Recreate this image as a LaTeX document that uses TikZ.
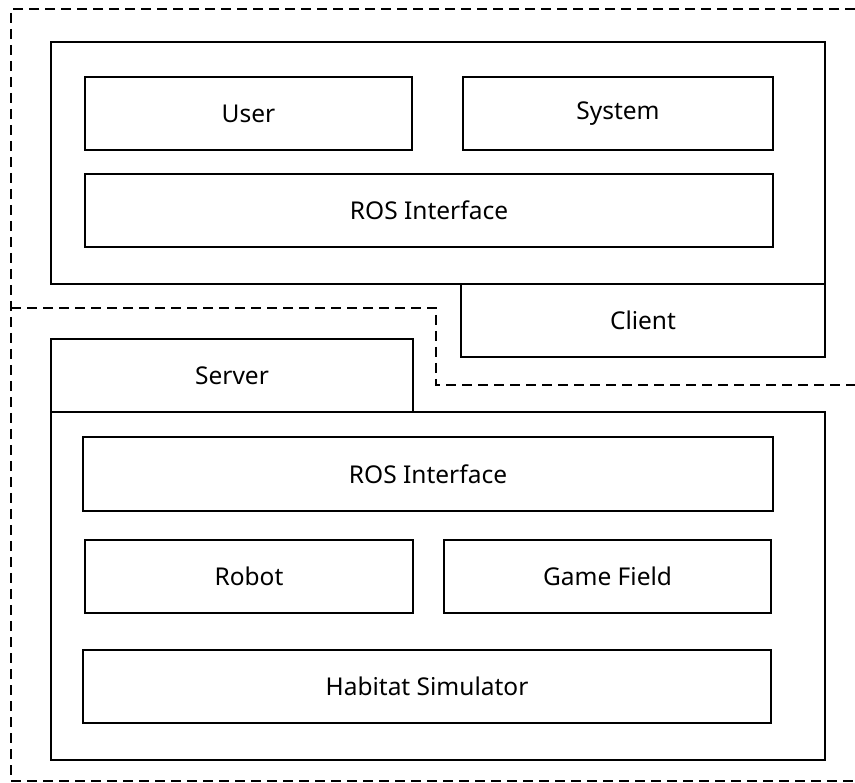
\documentclass[tikz,border=0pt]{standalone}
\usepackage{fontspec}
\setmainfont{Noto Sans}
\usetikzlibrary{positioning}
\tikzset{
    x=1pt, y=-1pt, % one unit per pixel of the layout
    box/.style={draw, line width=2pt, inner sep=0pt, anchor=north west,
        font=\fontsize{24.5}{29}\selectfont}, % every block
    region/.style={dashed, line width=2pt, dash pattern=on 10pt off 6pt}, % client / server split
}
\begin{document}
\begin{tikzpicture}
    \useasboundingbox (0,0) rectangle (855,783);
    % client side
    \node[box, minimum width=774pt, minimum height=242pt] (cframe) at (50,41) {};
    \node[box, minimum width=327pt, minimum height=73pt] (user) at (84,76) {User};
    \node[box, minimum width=310pt, minimum height=73pt] (system) at (462,76) {System};
    \node[box, minimum width=688pt, minimum height=73pt] (cros) at (84,173) {ROS Interface};
    \node[box, minimum width=364pt, minimum height=73pt] (client) at (460,283) {Client};
    % server side
    \node[box, minimum width=362pt, minimum height=73pt] (server) at (50,338) {Server};
    \node[box, minimum width=774pt, minimum height=348pt] (sframe) at (50,411) {};
    \node[box, minimum width=690pt, minimum height=74pt] (sros) at (82,436) {ROS Interface};
    \node[box, minimum width=328pt, minimum height=73pt] (robot) at (84,539) {Robot};
    \node[box, minimum width=327pt, minimum height=73pt] (field) at (443,539) {Game Field};
    \node[box, minimum width=688pt, minimum height=73pt] (habitat) at (82,649) {Habitat Simulator};
    % dashed regions
    \coordinate (tr) at (855,9);
    \coordinate (tl) at (11,9);
    \coordinate (ml) at (11,308);
    \coordinate (mm) at (436,308);
    \coordinate (mb) at (436,385);
    \coordinate (mr) at (855,385);
    \coordinate (bl) at (11,781);
    \coordinate (br) at (855,781);
    \draw[region] (tr) -- (tl) -- (bl) -- (br);
    \draw[region] (ml) -- (mm) -- (mb) -- (mr);
\end{tikzpicture}
\end{document}
